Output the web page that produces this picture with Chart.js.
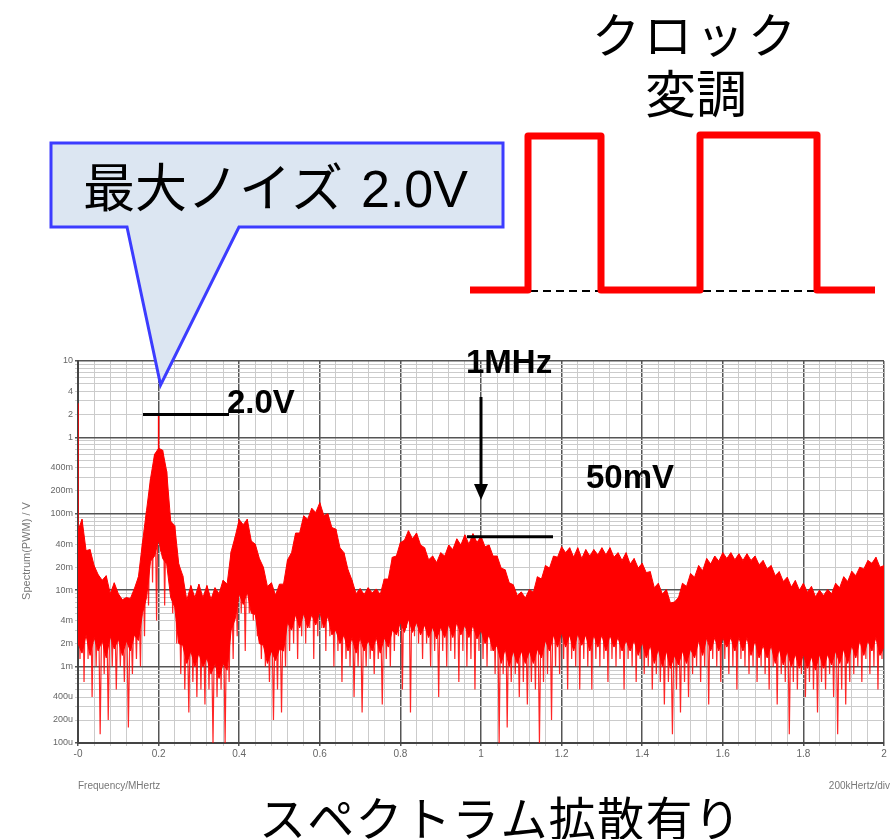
<!DOCTYPE html>
<html>
<head>
<meta charset="utf-8">
<script src="https://cdn.jsdelivr.net/npm/chart.js@4.4.1/dist/chart.umd.min.js"></script>
<style>
  html, body { margin: 0; padding: 0; background: #fff; }
  #wrap { width: 891px; height: 839px; position: relative; }
</style>
</head>
<body>
<div id="wrap"><canvas id="spectrum" width="891" height="839"></canvas></div>
<script>
// spectrum, every 0.01 MHz (values in mV)
const stepMHz = 0.01;
// top of the noise band
const peakMv = [
  60, 85, 33, 34, 21, 16, 13.5, 15.5, 9, 12.5,
  9, 7.5, 8, 7.8, 10.5, 15, 42, 110, 290, 600,
  720, 680, 360, 80, 70, 22, 15.5, 7.4, 11.5, 8,
  12, 8, 11.5, 7.6, 10.8, 9, 13.5, 12, 32, 50,
  84, 72, 85, 44, 40, 26, 20, 11.2, 12.5, 8.6,
  12, 12, 25, 31, 56, 56, 94, 85, 118, 104,
  140, 95, 100, 66, 63, 36, 31, 18.5, 13.5, 9,
  10.5, 8.8, 10.8, 9.2, 10.4, 8.8, 14, 14, 27, 28,
  42, 45, 60, 47, 56, 39, 36, 25, 28, 23,
  31, 28, 39, 34, 47, 39, 53, 40, 55, 42,
  51, 37, 39, 28, 28, 19.5, 18.5, 12.5, 11.8, 8.5,
  9.5, 7.9, 10.2, 9.4, 15, 14, 21, 19.5, 28, 27,
  37, 31, 36, 27, 36, 26, 34, 28, 34, 29,
  36, 29, 36, 27, 31, 24.5, 31, 22, 26, 19.5,
  22.5, 17, 17.5, 10.8, 12.3, 8.9, 10.2, 6.8, 7, 8,
  12.3, 11.2, 16.5, 14.8, 21, 18, 26, 22, 28, 24,
  31, 26, 31, 25, 30, 24.5, 30, 24.5, 28, 21.5,
  24.5, 19, 21, 15.5, 17.5, 13, 14.8, 11, 13.4, 10,
  12.3, 9.4, 11.2, 8.2, 10, 8.5, 10.2, 9, 12.3, 10.8,
  15, 13, 17.7, 15.5, 20, 19, 24.5, 22.5, 27, 20,
  21
];
// bottom of the dense (solid) part of the band
const coreMv = [
  2, 1.5, 2.6, 1.4, 2.4, 1.6, 2.2, 1.3, 2.5, 1.7,
  2.3, 1.4, 2.2, 1.6, 2.6, 2.2, 5, 8, 24, 28,
  45, 26, 22, 8, 6, 2, 1.9, 1.1, 1.6, 1,
  1.5, 1, 1.3, 0.8, 1.1, 0.7, 1.1, 0.9, 3, 4.2,
  9, 6.5, 9.5, 5, 4.8, 2, 1.9, 1.1, 1.6, 1.2,
  1.7, 1.6, 3.8, 3, 4.8, 3.2, 5, 3.2, 4.8, 3.5,
  5.2, 3.2, 4.6, 2.6, 3, 2, 2.6, 1.6, 2.4, 1.5,
  2.4, 1.6, 2.2, 1.6, 2.4, 1.5, 2.4, 1.8, 3, 2.6,
  3.8, 2.8, 4.2, 2.8, 3.8, 2.6, 3.5, 2.4, 3.3, 2.3,
  3.3, 2.4, 3.6, 2.4, 3.8, 2.6, 3.5, 2.4, 3.5, 2.3,
  3, 2, 2.6, 1.6, 1.9, 1.1, 1.7, 1, 1.6, 1.1,
  1.6, 1.1, 1.6, 1.1, 1.7, 1.3, 2.2, 1.6, 2.6, 1.8,
  2.8, 1.8, 2.6, 1.6, 2.7, 1.9, 2.6, 1.6, 2.6, 1.8,
  2.6, 1.6, 2.6, 1.8, 2.4, 1.6, 2.2, 1.6, 2.2, 1.4,
  2.1, 1.3, 1.9, 1.1, 1.7, 1, 1.6, 0.95, 1.4, 1.05,
  1.6, 1.1, 1.7, 1.3, 2.2, 1.4, 2.4, 1.6, 2.4, 1.6,
  2.4, 1.8, 2.4, 1.6, 2.4, 1.6, 2.4, 1.4, 2.2, 1.3,
  1.9, 1.3, 1.9, 1.1, 1.7, 1.05, 1.6, 1, 1.45, 0.95,
  1.45, 0.95, 1.35, 0.9, 1.45, 0.95, 1.45, 1.05, 1.6, 1.1,
  1.7, 1.1, 1.9, 1.3, 2.2, 1.4, 2.2, 1.6, 2.4, 1.4,
  1.8
];
// tips of the downward noise spikes
const floorMv = [
  1.26, 0.63, 1.26, 0.4, 1, 0.13, 0.8, 0.2, 1, 0.5,
  1, 0.63, 0.16, 0.8, 1.26, 1, 2.5, 6.3, 12.6, 4,
  32, 6.3, 15.8, 5, 2, 0.8, 0.5, 0.25, 0.63, 0.4,
  0.5, 0.32, 0.5, 0.1, 0.4, 0.5, 0.1, 0.63, 1.26, 2.5,
  5, 1.6, 5, 4, 2.5, 1.26, 1, 0.63, 0.2, 0.5,
  0.25, 1, 1.6, 2, 1.26, 2.5, 2, 3.2, 1.26, 2.5,
  3.2, 1.6, 2.5, 1, 1.6, 0.63, 1.26, 1, 0.4, 1,
  0.25, 1, 1.26, 0.8, 1.26, 0.32, 1.26, 1, 1.6, 2.5,
  0.5, 3.2, 0.25, 2.5, 2, 1.26, 2, 1, 1.6, 0.4,
  1.6, 1, 1.6, 1.26, 0.63, 1.6, 1, 1.26, 0.5, 1.6,
  1.26, 1, 1.6, 0.8, 0.1, 0.8, 0.16, 0.63, 0.8, 0.4,
  0.63, 0.32, 0.63, 0.5, 0.1, 0.63, 0.8, 0.2, 1, 0.8,
  1.26, 0.5, 1.26, 1, 0.5, 1.26, 1, 0.5, 1.26, 1,
  1.26, 0.63, 1.26, 1, 1.26, 0.5, 1.26, 1, 0.63, 1.26,
  0.8, 1, 0.5, 0.8, 0.63, 0.32, 0.63, 0.13, 0.5, 0.25,
  0.63, 0.4, 0.8, 1, 0.63, 1, 0.32, 1.26, 1, 0.63,
  1.26, 0.8, 1, 0.5, 1.26, 1, 0.8, 1, 0.63, 1,
  0.8, 0.5, 1, 0.32, 0.8, 0.63, 0.13, 0.63, 0.5, 0.8,
  0.4, 0.63, 0.5, 0.25, 0.63, 0.5, 0.8, 0.4, 0.13, 0.5,
  0.32, 0.63, 0.8, 1, 0.63, 1.26, 0.8, 1, 0.5, 1.26,
  1
];
// single tall lines: frequency (MHz), bottom and top (mV)
const spikeFreq = [0, 0.2];
const spikeFromMv = [8, 300];
const spikeToMv = [2800, 2000];

// axis labels
const xTickLabels = ['-0', '0.2', '0.4', '0.6', '0.8', '1', '1.2', '1.4', '1.6', '1.8', '2'];
const yLabelValues = [10, 4, 2, 1, 0.4, 0.2, 0.1, 0.04, 0.02, 0.01, 0.004, 0.002, 0.001, 0.0004, 0.0002, 0.0001];
const yTickLabels = ['10', '4', '2', '1', '400m', '200m', '100m', '40m', '20m', '10m', '4m', '2m', '1m', '400u', '200u', '100u'];

// annotation values
const maxNoiseV = 2.0;
const spreadLevelV = 0.05;
const markerFreqMHz = 1;

const topLine = peakMv.map(function (v, i) { return { x: i * stepMHz, y: v / 1000 }; });
const coreLine = coreMv.map(function (v, i) { return { x: i * stepMHz, y: v / 1000 }; });
// zigzag between the band top and the spike tips
const spikeLine = [];
peakMv.forEach(function (v, i) {
    spikeLine.push({ x: i * stepMHz, y: v / 1000 });
    spikeLine.push({ x: i * stepMHz + stepMHz / 2, y: floorMv[i] / 1000 });
});
const tallLines = [];
spikeFreq.forEach(function (f, i) {
    tallLines.push({ x: f, y: spikeFromMv[i] / 1000 });
    tallLines.push({ x: f, y: spikeToMv[i] / 1000 });
    tallLines.push({ x: f, y: null });
});

const smallFont = "'Liberation Sans Narrow', 'Liberation Sans', sans-serif";
const jpFont = "'Noto Sans CJK JP', sans-serif";

function isDecade(v) {
    const l = Math.log10(v);
    return Math.abs(l - Math.round(l)) < 1e-6;
}

const annotate = {
    id: 'annotate',
    afterDraw: function (chart) {
        const ctx = chart.ctx;
        const xs = chart.scales.x;
        const ys = chart.scales.y;
        ctx.save();

        // axis titles
        ctx.fillStyle = '#777';
        ctx.font = '10px ' + smallFont;
        ctx.textBaseline = 'middle';
        ctx.textAlign = 'left';
        ctx.fillText('Frequency/MHertz', 78, 786);
        ctx.textAlign = 'right';
        ctx.fillText('200kHertz/div', 890, 786);
        ctx.save();
        ctx.translate(27, 551);
        ctx.rotate(-Math.PI / 2);
        ctx.textAlign = 'center';
        ctx.font = '11px ' + smallFont;
        ctx.fillText('Spectrum(PWM) / V', 0, 0);
        ctx.restore();

        // callout
        const tipX = xs.getPixelForValue(0.2) + 2;
        ctx.beginPath();
        ctx.moveTo(51, 143);
        ctx.lineTo(503, 143);
        ctx.lineTo(503, 227);
        ctx.lineTo(239, 227);
        ctx.lineTo(tipX, 385);
        ctx.lineTo(127, 227);
        ctx.lineTo(51, 227);
        ctx.closePath();
        ctx.fillStyle = '#dce6f2';
        ctx.fill();
        ctx.strokeStyle = '#3c3cff';
        ctx.lineWidth = 3;
        ctx.lineJoin = 'miter';
        ctx.stroke();

        ctx.fillStyle = '#000';
        ctx.textAlign = 'left';
        ctx.textBaseline = 'alphabetic';
        ctx.font = '52px ' + jpFont;
        ctx.fillText('最大ノイズ', 83, 207);
        ctx.font = '52px "Liberation Sans", sans-serif';
        ctx.fillText('2.0V', 361, 207);

        // 2.0V marker
        ctx.strokeStyle = '#000';
        ctx.lineWidth = 3;
        const y2 = ys.getPixelForValue(maxNoiseV);
        ctx.beginPath();
        ctx.moveTo(143, y2);
        ctx.lineTo(229, y2);
        ctx.stroke();
        ctx.font = 'bold 33px "Liberation Sans", sans-serif';
        ctx.fillText('2.0V', 227, 413);

        // 1MHz arrow and 50mV marker
        const x1 = xs.getPixelForValue(markerFreqMHz);
        ctx.fillText('1MHz', 466, 373);
        ctx.beginPath();
        ctx.moveTo(x1, 397);
        ctx.lineTo(x1, 487);
        ctx.stroke();
        ctx.beginPath();
        ctx.moveTo(x1 - 7, 484);
        ctx.lineTo(x1 + 7, 484);
        ctx.lineTo(x1, 500);
        ctx.closePath();
        ctx.fillStyle = '#000';
        ctx.fill();
        const y50 = ys.getPixelForValue(spreadLevelV);
        ctx.beginPath();
        ctx.moveTo(467, y50);
        ctx.lineTo(553, y50);
        ctx.stroke();
        ctx.fillText('50mV', 586, 488);

        // clock modulation sketch
        ctx.setLineDash([8, 5]);
        ctx.lineWidth = 2;
        ctx.beginPath();
        ctx.moveTo(530, 291);
        ctx.lineTo(600, 291);
        ctx.moveTo(703, 291);
        ctx.lineTo(817, 291);
        ctx.stroke();
        ctx.setLineDash([]);

        ctx.strokeStyle = '#ff0000';
        ctx.lineWidth = 7;
        ctx.lineJoin = 'round';
        ctx.beginPath();
        ctx.moveTo(470, 290);
        ctx.lineTo(528, 290);
        ctx.lineTo(528, 136);
        ctx.lineTo(601, 136);
        ctx.lineTo(601, 290);
        ctx.lineTo(700, 290);
        ctx.lineTo(700, 135);
        ctx.lineTo(817, 135);
        ctx.lineTo(817, 290);
        ctx.lineTo(875, 290);
        ctx.stroke();

        ctx.fillStyle = '#000';
        ctx.textBaseline = 'middle';
        ctx.font = '48px ' + jpFont;
        ctx.letterSpacing = '4px';
        ctx.fillText('クロック', 592, 35);
        ctx.letterSpacing = '0px';
        ctx.font = '51px ' + jpFont;
        ctx.fillText('変調', 645, 94);

        ctx.textAlign = 'left';
        ctx.font = '47px ' + jpFont;
        ctx.letterSpacing = '1.3px';
        ctx.fillText('スペクトラム拡散有り', 259, 818);
        ctx.letterSpacing = '0px';

        ctx.restore();
    }
};

const spectrumChart = new Chart(document.getElementById('spectrum'), {
    type: 'line',
    data: {
        datasets: [
            {
                label: 'band top',
                data: topLine,
                borderColor: '#ff0000',
                backgroundColor: '#ff0000',
                borderWidth: 1,
                pointRadius: 0,
                tension: 0,
                fill: '+1'
            },
            {
                label: 'band core',
                data: coreLine,
                borderColor: '#ff0000',
                borderWidth: 1,
                pointRadius: 0,
                tension: 0,
                fill: false
            },
            {
                label: 'noise spikes',
                data: spikeLine,
                borderColor: 'rgba(255, 0, 0, 0.85)',
                borderWidth: 1.2,
                pointRadius: 0,
                tension: 0,
                fill: false
            },
            {
                label: 'tall lines',
                data: tallLines,
                borderColor: '#ff0000',
                borderWidth: 1.5,
                pointRadius: 0,
                spanGaps: false,
                fill: false
            }
        ]
    },
    options: {
        responsive: false,
        animation: false,
        layout: { padding: { top: 361, right: 7, left: 0, bottom: 0 } },
        plugins: {
            legend: { display: false },
            tooltip: { enabled: false }
        },
        scales: {
            x: {
                type: 'linear',
                min: 0,
                max: 2,
                afterBuildTicks: function (scale) {
                    const t = [];
                    for (let i = 0; i <= 50; i++) t.push({ value: i * 0.04 });
                    scale.ticks = t;
                },
                afterFit: function (scale) { scale.height = 96; },
                ticks: {
                    autoSkip: false,
                    maxRotation: 0,
                    padding: 2,
                    color: '#666',
                    font: { size: 10, family: smallFont },
                    callback: function (v, i) { return i % 5 === 0 ? xTickLabels[i / 5] : ''; }
                },
                grid: {
                    tickLength: 3,
                    color: function (c) { return c.index % 5 === 0 ? '#555' : '#cbcbcb'; },
                    lineWidth: function (c) { return c.index % 5 === 0 ? 1.5 : 1; }
                },
                border: { color: '#444', width: 2 }
            },
            y: {
                type: 'logarithmic',
                min: 0.0001,
                max: 10,
                afterBuildTicks: function (scale) {
                    const t = [];
                    for (let d = -4; d <= 0; d++) {
                        for (let m = 1; m <= 9; m++) t.push({ value: m * Math.pow(10, d) });
                    }
                    t.push({ value: 10 });
                    scale.ticks = t;
                },
                afterFit: function (scale) { scale.width = 78; },
                ticks: {
                    autoSkip: false,
                    padding: 2,
                    color: '#666',
                    font: { size: 9, family: smallFont },
                    callback: function (v) {
                        for (let k = 0; k < yLabelValues.length; k++) {
                            if (Math.abs(v - yLabelValues[k]) < yLabelValues[k] * 1e-6) return yTickLabels[k];
                        }
                        return '';
                    }
                },
                grid: {
                    tickLength: 3,
                    color: function (c) { return isDecade(c.tick.value) ? '#555' : '#cbcbcb'; },
                    lineWidth: function (c) { return isDecade(c.tick.value) ? 1.5 : 1; }
                },
                border: { color: '#444', width: 2 }
            }
        }
    },
    plugins: [annotate]
});
</script>
</body>
</html>
